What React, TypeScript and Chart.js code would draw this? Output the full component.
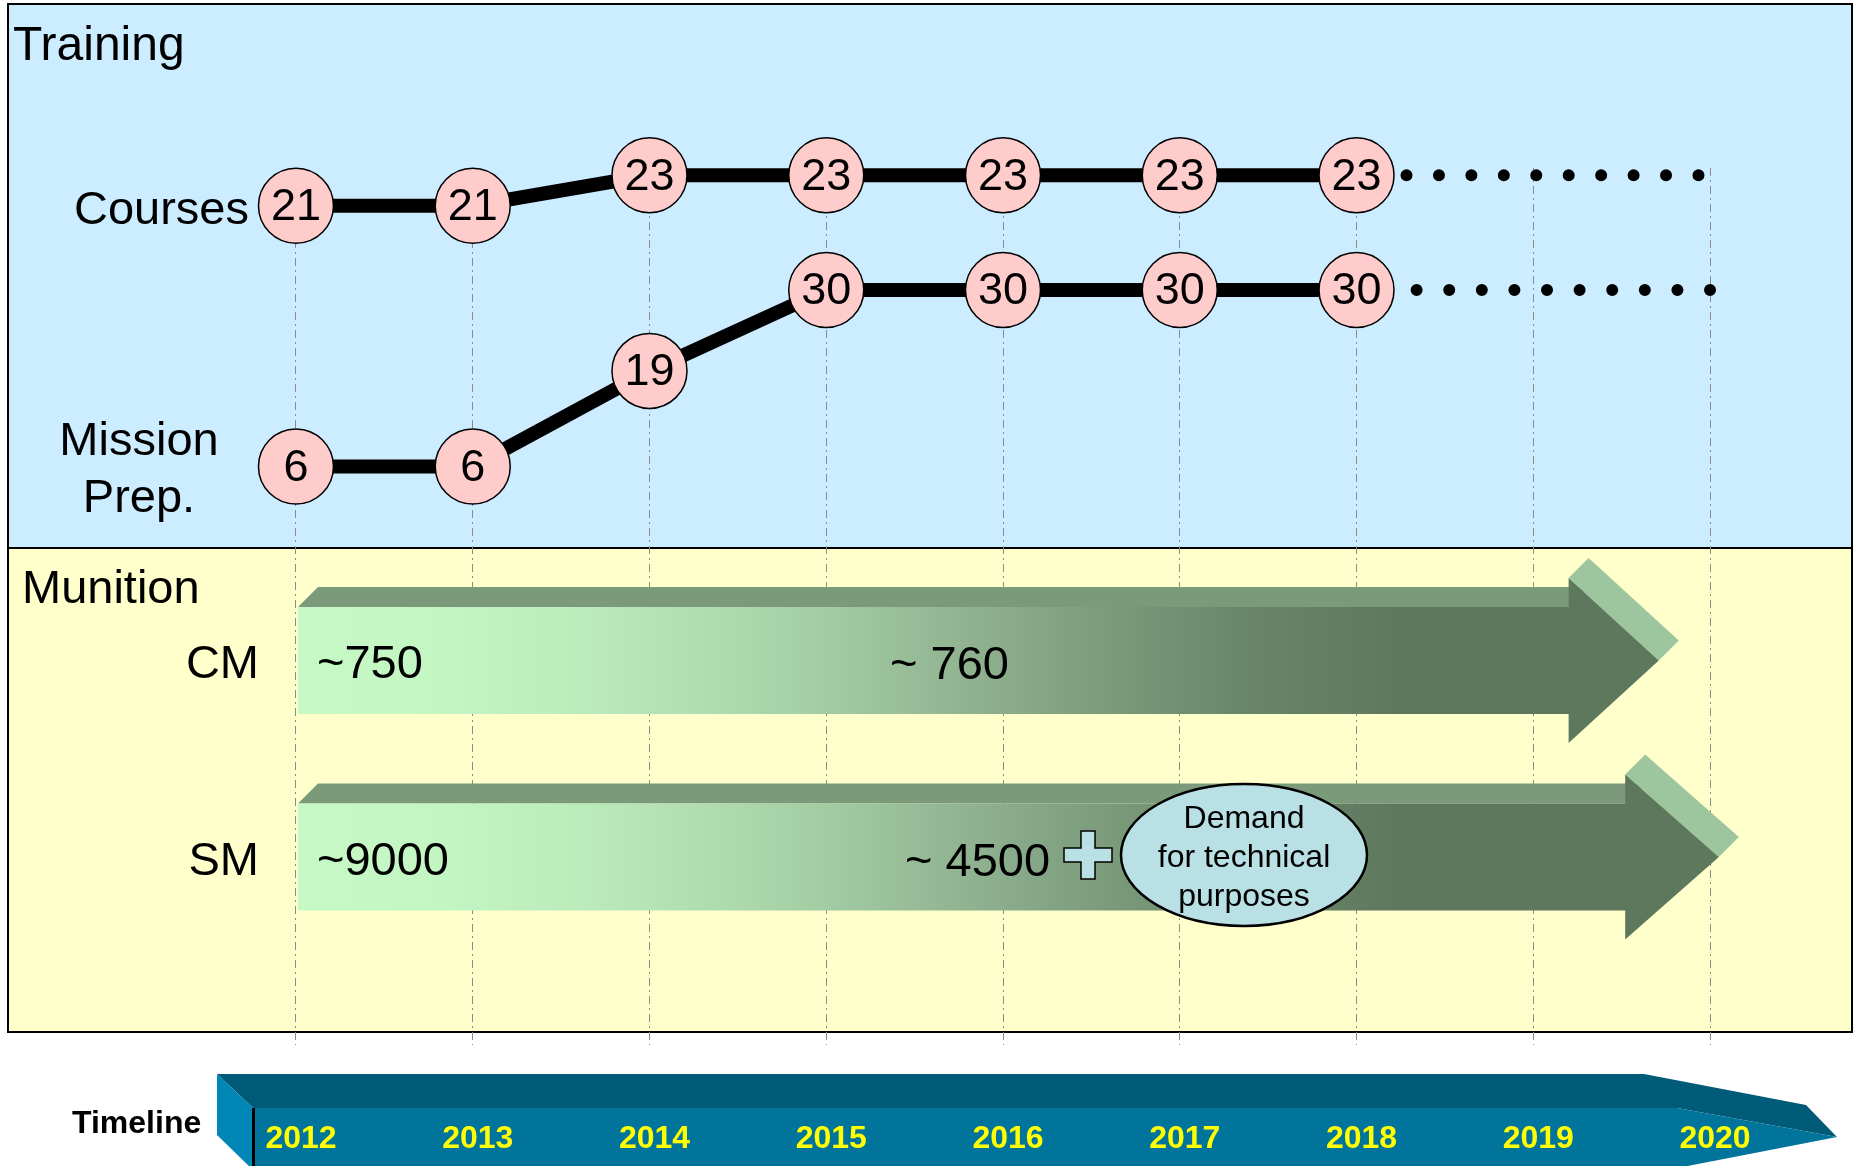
import { useEffect, useRef } from 'react';
import { Chart, registerables } from 'chart.js';

Chart.register(...registerables);

const FONT = '"Liberation Sans", Arial, sans-serif';

// ---- data ----
const timelineYears = [2012, 2013, 2014, 2015, 2016, 2017, 2018, 2019, 2020];
const trainingYears = [2012, 2013, 2014, 2015, 2016, 2017, 2018];
const courses = [21, 21, 23, 23, 23, 23, 23];
const missionPrep = [6, 6, 19, 30, 30, 30, 30];
const projectionYears = [2018, 2020];
const coursesProjection = [23, 23];
const missionProjection = [30, 30];

const munitionRows = ['CM', 'SM'];
const munitionRowIndex = [1, 2];
const munitionFrom = [2012, 2012];
const munitionHeadAt = [2019.2, 2019.52];
const munitionTo = [2019.71, 2020.05];
const munitionStartText = ['~750', '~9000'];
const munitionLaterText = ['~ 760', '~ 4500'];
const demandNote = ['Demand', 'for technical', 'purposes'];

function poly(ctx: CanvasRenderingContext2D, pts: number[][]) {
  ctx.beginPath();
  ctx.moveTo(pts[0][0], pts[0][1]);
  for (let i = 1; i < pts.length; i++) ctx.lineTo(pts[i][0], pts[i][1]);
  ctx.closePath();
  ctx.fill();
}

const backdropPlugin = {
  id: 'backdrop',
  beforeDraw(chart: any) {
    const ctx: CanvasRenderingContext2D = chart.ctx;
    const ym = chart.scales.yMun;
    ctx.save();
    // panels
    ctx.fillStyle = '#CCECFF';
    ctx.fillRect(8, 4, 1844, 544);
    ctx.fillStyle = '#FFFFCC';
    ctx.fillRect(8, 548, 1844, 484);
    ctx.strokeStyle = '#000';
    ctx.lineWidth = 2;
    ctx.strokeRect(8, 4, 1844, 544);
    ctx.strokeRect(8, 548, 1844, 484);

    // timeline bar
    ctx.fillStyle = '#005B79';
    poly(ctx, [[217, 1074], [1644, 1074], [1806, 1105], [1837, 1137], [1677, 1108], [253, 1108]]);
    ctx.fillStyle = '#00749B';
    poly(ctx, [[253, 1108], [1677, 1108], [1837, 1137], [1667, 1170], [253, 1170]]);
    ctx.fillStyle = '#0087B5';
    poly(ctx, [[217, 1074], [253, 1108], [253, 1170], [217, 1135]]);
    ctx.fillStyle = '#000';
    ctx.fillRect(252, 1108, 3, 60);

    // texts
    ctx.fillStyle = '#000';
    ctx.textBaseline = 'alphabetic';
    ctx.font = `48px ${FONT}`;
    ctx.textAlign = 'left';
    ctx.fillText('Training', 13, 60);
    ctx.font = `47px ${FONT}`;
    ctx.textAlign = 'right';
    ctx.fillText('Courses', 249, 224);
    ctx.textAlign = 'center';
    ctx.fillText('Mission', 139, 455);
    ctx.fillText('Prep.', 139, 512);
    ctx.textAlign = 'left';
    ctx.fillText('Munition', 22, 603);
    ctx.textAlign = 'right';
    munitionRows.forEach((name, i) => {
      const cy = ym.getPixelForValue(munitionRowIndex[i]);
      ctx.fillText(name, 259, cy + 18);
    });
    ctx.font = `bold 32px ${FONT}`;
    ctx.textAlign = 'left';
    ctx.fillText('Timeline', 72, 1133);
    ctx.restore();
  },
  afterDatasetsDraw(chart: any) {
    const ctx: CanvasRenderingContext2D = chart.ctx;
    const xs = chart.scales.x;
    const ym = chart.scales.yMun;
    ctx.save();

    // values inside markers
    ctx.font = `45px ${FONT}`;
    ctx.fillStyle = '#000';
    ctx.textAlign = 'center';
    ctx.textBaseline = 'middle';
    chart.data.datasets.forEach((ds: any, di: number) => {
      if (!ds.showValues) return;
      const meta = chart.getDatasetMeta(di);
      meta.data.forEach((pt: any, j: number) => {
        ctx.fillText(String(ds.data[j].y), pt.x, pt.y + 2);
      });
    });

    // munition arrows
    const bh = 53.5;
    const hh = 82.5;
    const d = 20;
    munitionRows.forEach((_name, i) => {
      const cy = ym.getPixelForValue(munitionRowIndex[i]);
      const x0 = xs.getPixelForValue(munitionFrom[i]) + 2;
      const xh = xs.getPixelForValue(munitionHeadAt[i]);
      const xt = xs.getPixelForValue(munitionTo[i]);
      ctx.fillStyle = '#7A9A7A';
      poly(ctx, [[x0, cy - bh], [x0 + d, cy - bh - d], [xh + d, cy - bh - d], [xh, cy - bh]]);
      ctx.fillStyle = '#9EC69E';
      poly(ctx, [[xh, cy - hh], [xh + d, cy - hh - d], [xt + d, cy - d], [xt, cy]]);
      const g = ctx.createLinearGradient(x0, 0, xs.getPixelForValue(2018.25), 0);
      g.addColorStop(0, '#C6F9C6');
      g.addColorStop(0.12, '#C4F6C4');
      g.addColorStop(0.25, '#BCEBBC');
      g.addColorStop(0.38, '#AFDCAF');
      g.addColorStop(0.5, '#A0C8A0');
      g.addColorStop(0.62, '#8EB08E');
      g.addColorStop(0.74, '#7A9A7A');
      g.addColorStop(0.86, '#698669');
      g.addColorStop(1, '#5E785E');
      ctx.fillStyle = g;
      poly(ctx, [[x0, cy - bh], [xh, cy - bh], [xh, cy - hh], [xt, cy], [xh, cy + hh], [xh, cy + bh], [x0, cy + bh]]);

      ctx.fillStyle = '#000';
      ctx.font = `47px ${FONT}`;
      ctx.textAlign = 'left';
      ctx.textBaseline = 'alphabetic';
      ctx.fillText(munitionStartText[i], x0 + 19, cy + 18);
      ctx.fillText(munitionLaterText[i], i === 0 ? 890 : 905, cy + 19);
    });

    // plus sign + demand ellipse on SM row
    const cy = ym.getPixelForValue(munitionRowIndex[1]) - 2;
    const cx = 1088;
    const a = 24;
    const t = 7;
    ctx.beginPath();
    const cross = [[cx - t, cy - a], [cx + t, cy - a], [cx + t, cy - t], [cx + a, cy - t], [cx + a, cy + t], [cx + t, cy + t], [cx + t, cy + a], [cx - t, cy + a], [cx - t, cy + t], [cx - a, cy + t], [cx - a, cy - t], [cx - t, cy - t]];
    ctx.moveTo(cross[0][0], cross[0][1]);
    cross.slice(1).forEach((p) => ctx.lineTo(p[0], p[1]));
    ctx.closePath();
    ctx.fillStyle = '#B9E0E4';
    ctx.fill();
    ctx.strokeStyle = '#000';
    ctx.lineWidth = 1.5;
    ctx.stroke();

    ctx.beginPath();
    ctx.ellipse(1244, cy, 123, 71, 0, 0, Math.PI * 2);
    ctx.fillStyle = '#B9E0E4';
    ctx.fill();
    ctx.lineWidth = 2.5;
    ctx.stroke();
    ctx.fillStyle = '#000';
    ctx.font = `32px ${FONT}`;
    ctx.textAlign = 'center';
    ctx.textBaseline = 'alphabetic';
    demandNote.forEach((line, k) => {
      ctx.fillText(line, 1244, cy - 27 + k * 39);
    });

    ctx.restore();
  },
};

export default function App() {
  const ref = useRef<HTMLCanvasElement>(null);

  useEffect(() => {
    const canvas = ref.current;
    if (!canvas) return;
    const chart = new Chart(canvas, {
      type: 'line',
      data: {
        datasets: [
          {
            label: 'Courses',
            data: trainingYears.map((x, i) => ({ x, y: courses[i] })),
            yAxisID: 'yCourses',
            borderColor: '#000',
            borderWidth: 14,
            pointRadius: 37.5,
            pointHoverRadius: 37.5,
            pointBackgroundColor: '#FFCCCC',
            pointBorderColor: '#000',
            pointBorderWidth: 1.5,
            tension: 0,
            clip: false,
            showValues: true,
          } as any,
          {
            label: 'Mission Prep.',
            data: trainingYears.map((x, i) => ({ x, y: missionPrep[i] })),
            yAxisID: 'yMission',
            borderColor: '#000',
            borderWidth: 14,
            pointRadius: 37.5,
            pointHoverRadius: 37.5,
            pointBackgroundColor: '#FFCCCC',
            pointBorderColor: '#000',
            pointBorderWidth: 1.5,
            tension: 0,
            clip: false,
            showValues: true,
          } as any,
          {
            label: 'Courses (continued)',
            data: projectionYears.map((x, i) => ({ x, y: coursesProjection[i] })),
            yAxisID: 'yCourses',
            borderColor: '#000',
            borderWidth: 12,
            borderDash: [0, 32.44],
            borderDashOffset: 14.88,
            borderCapStyle: 'round',
            pointRadius: 0,
            pointHoverRadius: 0,
            clip: false,
          } as any,
          {
            label: 'Mission Prep. (continued)',
            data: projectionYears.map((x, i) => ({ x, y: missionProjection[i] })),
            yAxisID: 'yMission',
            borderColor: '#000',
            borderWidth: 12,
            borderDash: [0, 32.6],
            borderDashOffset: 5.1,
            borderCapStyle: 'round',
            pointRadius: 0,
            pointHoverRadius: 0,
            clip: false,
          } as any,
        ],
      },
      options: {
        responsive: false,
        animation: false,
        devicePixelRatio: 1,
        events: [],
        layout: { autoPadding: false, padding: { left: 207.6, right: 10.4, top: 168, bottom: 0 } },
        plugins: { legend: { display: false }, tooltip: { enabled: false } },
        scales: {
          x: {
            type: 'linear',
            position: 'bottom',
            min: 2011.5,
            max: 2020.75,
            afterBuildTicks: (axis: any) => {
              axis.ticks = timelineYears.map((v) => ({ value: v }));
            },
            afterFit: (axis: any) => {
              axis.height = 121;
              axis.paddingLeft = 0;
              axis.paddingRight = 0;
            },
            grid: { display: true, color: '#8C8C8C', lineWidth: 1, drawTicks: false },
            border: { display: false, dash: [8, 4, 2, 4] },
            ticks: {
              color: '#FFFF00',
              font: { family: FONT, size: 32, weight: 'bold' },
              padding: 75,
              labelOffset: 5,
              autoSkip: false,
              maxRotation: 0,
              minRotation: 0,
              callback: (v: any) => String(v),
            },
          },
          yCourses: { type: 'linear', display: false, min: -34.03, max: 23.475 },
          yMission: { type: 'linear', display: false, min: -72.67, max: 46.59 },
          yMun: { type: 'linear', display: false, min: -1.506, max: 2.957, reverse: true },
        },
      } as any,
      plugins: [backdropPlugin],
    });
    return () => chart.destroy();
  }, []);

  return (
    <div style={{ position: 'absolute', left: 0, top: 0, width: 1853, height: 1166 }}>
      <canvas ref={ref} width={1853} height={1166} style={{ display: 'block', width: 1853, height: 1166 }} />
    </div>
  );
}
